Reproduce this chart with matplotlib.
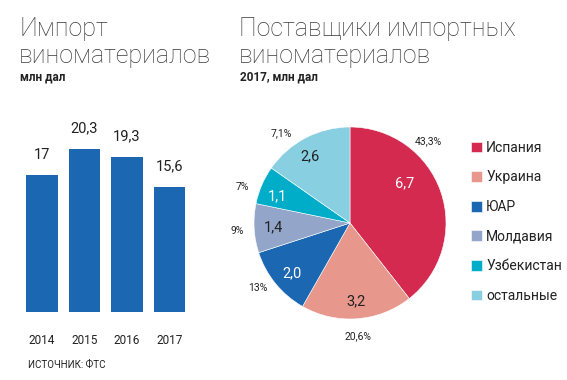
import numpy as np
import matplotlib
matplotlib.use("Agg")
import matplotlib.pyplot as plt

# =========================
# DATA
# =========================
years = ["2014", "2015", "2016", "2017"]
imports = [17, 20.3, 19.3, 15.6]

suppliers = ["Испания", "Украина", "ЮАР", "Молдавия", "Узбекистан", "остальные"]
supply_values = [6.7, 3.2, 2.0, 1.4, 1.1, 2.6]
supply_shares = [43.3, 20.6, 13, 9, 7, 7.1]

# =========================
# STYLE
# =========================
BAR_COLOR = "#1b67b2"
PIE_COLORS = ["#d42a4f", "#e8978c", "#1b67b2", "#93a5c8", "#00adc9", "#87cfe1"]
INNER_TEXT = ["white", "#222222", "white", "#222222", "white", "#222222"]
TEXT = "#222222"

plt.rcParams["font.family"] = ["Roboto", "DejaVu Sans"]


def fmt(v, spec="g"):
    return format(v, spec).replace(".", ",")


def main():
    W, H = 567, 380
    fig = plt.figure(figsize=(W / 100, H / 100), dpi=100)

    def fx(px):
        return px / W

    def fy(py):
        return 1 - py / H

    # =========================
    # TITLES
    # =========================
    title_kw = dict(fontsize=18, fontweight="light", color="#3a3a3a", va="baseline")
    fig.text(fx(19), fy(36), "Импорт", **title_kw)
    fig.text(fx(19), fy(63), "виноматериалов", **title_kw)
    fig.text(fx(20), fy(80), "млн дал", fontsize=8.5, fontweight="bold",
             color=TEXT, va="baseline")

    fig.text(fx(239), fy(36), "Поставщики импортных", **title_kw)
    fig.text(fx(239), fy(63), "виноматериалов", **title_kw)
    fig.text(fx(240), fy(80), "2017, млн дал", fontsize=8.5, fontweight="bold",
             color=TEXT, va="baseline")

    # =========================
    # BAR CHART
    # =========================
    ax = fig.add_axes([fx(20.75), fy(312), 170 / W, 200.75 / H])
    x = np.arange(len(years))
    bars = ax.bar(x, imports, width=0.73, color=BAR_COLOR)
    ax.set_xlim(-0.5, len(years) - 0.5)
    ax.set_ylim(0, 25)
    for b, v in zip(bars, imports):
        ax.annotate(fmt(v), (b.get_x() + b.get_width() / 2, v),
                    xytext=(0, 12), textcoords="offset points",
                    ha="center", va="baseline", fontsize=10.5, color=TEXT)
    ax.set_xticks(x, years)
    ax.tick_params(axis="x", length=0, pad=16, labelsize=8.5, labelcolor=TEXT)
    ax.set_yticks([])
    for s in ax.spines.values():
        s.set_visible(False)

    fig.text(fx(28), fy(368.5), "ИСТОЧНИК: ФТС", fontsize=7, color=TEXT,
             va="baseline")

    # =========================
    # PIE CHART
    # =========================
    r_px = 96
    lim = 1.4
    size = 2 * lim * r_px
    pax = fig.add_axes([fx(350 - size / 2), fy(223 + size / 2), size / W, size / H])
    wedges, _ = pax.pie(supply_values, colors=PIE_COLORS, startangle=90,
                        counterclock=False, radius=1,
                        wedgeprops=dict(edgecolor="white", linewidth=0.4))
    pax.set_xlim(-lim, lim)
    pax.set_ylim(-lim, lim)
    pax.set_aspect("equal")
    pax.axis("off")

    inner_shift = [17, 0, 2, 0, 3, 3]
    inner_r = [0.71, 0.82, 0.8, 0.8, 0.81, 0.81]
    outer_shift = [27, 0, -4, 1, 5, 10]
    for w, val, share, tc, si, ri, so in zip(wedges, supply_values, supply_shares,
                                            INNER_TEXT, inner_shift, inner_r,
                                            outer_shift):
        mid = (w.theta1 + w.theta2) / 2
        a = np.deg2rad(mid + si)
        pax.text(ri * np.cos(a), ri * np.sin(a), fmt(val, ".1f"),
                 ha="center", va="center", fontsize=10.5, color=tc)
        a = np.deg2rad(mid + so)
        pax.text(1.18 * np.cos(a), 1.18 * np.sin(a), fmt(share) + "%",
                 ha="center", va="center", fontsize=7.5, color=TEXT)

    fig.legend(wedges, suppliers, loc="upper left",
               bbox_to_anchor=(fx(464), fy(134)), frameon=False,
               borderpad=0, fontsize=10, labelspacing=1.12,
               handlelength=0.8, handleheight=0.8, handletextpad=0.3,
               labelcolor=TEXT)

    fig.savefig("out.png", dpi=100)


if __name__ == "__main__":
    main()
